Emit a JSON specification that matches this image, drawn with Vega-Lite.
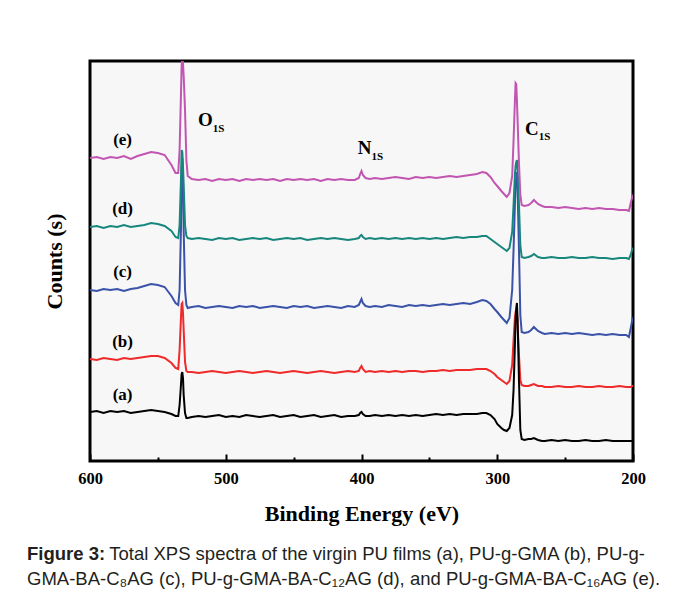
{
  "$schema": "https://vega.github.io/schema/vega-lite/v6.json",
  "width": 543,
  "height": 400,
  "autosize": {"type": "none"},
  "padding": {"left": 90, "top": 61, "right": 42, "bottom": 134},
  "background": "white",
  "config": {"view": {"stroke": "#000000", "strokeWidth": 3, "fill": "#f7f7f7"}},
  "title": {
    "text": "Figure 3:",
    "subtitle": ["\u200b\u00a0\u00a0\u00a0\u00a0\u00a0\u00a0\u00a0\u00a0\u00a0\u00a0\u00a0\u00a0\u00a0\u00a0\u00a0\u00a0Total XPS spectra of the virgin PU films (a), PU-g-GMA (b), PU-g-", "GMA-BA-C₈AG (c), PU-g-GMA-BA-C₁₂AG (d), and PU-g-GMA-BA-C₁₆AG (e)."],
    "orient": "bottom",
    "anchor": "start",
    "frame": "group",
    "dx": -63,
    "offset": 20,
    "font": "Liberation Sans",
    "fontSize": 18.5,
    "fontWeight": "bold",
    "color": "#231f20",
    "subtitleFont": "Liberation Sans",
    "subtitleFontSize": 18.5,
    "subtitleFontWeight": "normal",
    "subtitleColor": "#231f20",
    "subtitlePadding": -18.5,
    "subtitleLineHeight": 25
  },
  "datasets": {
    "spectra": [
      {"E":600,"a":49,"b":102,"c":171,"d":234,"e":303},
      {"E":595,"a":50,"b":101,"c":170,"d":235,"e":304},
      {"E":590,"a":48,"b":103,"c":172,"d":233,"e":302},
      {"E":585,"a":50,"b":102,"c":171,"d":235,"e":304},
      {"E":580,"a":49,"b":101,"c":172,"d":234,"e":303},
      {"E":575,"a":50,"b":103,"c":170,"d":236,"e":305},
      {"E":570,"a":48,"b":102,"c":172,"d":234,"e":302},
      {"E":565,"a":49,"b":103,"c":173,"d":235,"e":305},
      {"E":560,"a":50,"b":104,"c":175,"d":236,"e":307},
      {"E":555,"a":51,"b":105,"c":177,"d":238,"e":309},
      {"E":550,"a":50,"b":105,"c":176,"d":237,"e":308},
      {"E":545,"a":49,"b":103,"c":174,"d":235,"e":306},
      {"E":540,"a":47,"b":98,"c":165,"d":230,"e":296},
      {"E":537,"a":45,"b":93,"c":158,"d":224,"e":288},
      {"E":535,"a":45,"b":92,"c":156,"d":223,"e":288},
      {"E":534,"a":56,"b":111,"c":171,"d":236,"e":311},
      {"E":533,"a":76,"b":143,"c":231,"d":281,"e":366},
      {"E":532.5,"a":87,"b":157,"c":286,"d":311,"e":395},
      {"E":532,"a":89,"b":158,"c":303,"d":309,"e":404},
      {"E":531.5,"a":83,"b":148,"c":286,"d":295,"e":398},
      {"E":531,"a":66,"b":131,"c":231,"d":276,"e":385},
      {"E":530,"a":48,"b":99,"c":171,"d":236,"e":351},
      {"E":529,"a":43,"b":90,"c":156,"d":225,"e":301},
      {"E":528,"a":43,"b":89,"c":153,"d":223,"e":285},
      {"E":525,"a":44,"b":89,"c":154,"d":222,"e":282},
      {"E":520,"a":45,"b":88,"c":155,"d":223,"e":281},
      {"E":515,"a":44,"b":89,"c":153,"d":222,"e":282},
      {"E":510,"a":45,"b":90,"c":154,"d":221,"e":280},
      {"E":505,"a":46,"b":89,"c":155,"d":223,"e":282},
      {"E":500,"a":44,"b":88,"c":154,"d":222,"e":281},
      {"E":495,"a":45,"b":89,"c":153,"d":223,"e":282},
      {"E":490,"a":44,"b":90,"c":155,"d":221,"e":280},
      {"E":485,"a":46,"b":89,"c":154,"d":222,"e":282},
      {"E":480,"a":45,"b":88,"c":155,"d":223,"e":281},
      {"E":475,"a":44,"b":89,"c":153,"d":222,"e":282},
      {"E":470,"a":45,"b":90,"c":154,"d":223,"e":281},
      {"E":465,"a":46,"b":89,"c":155,"d":221,"e":282},
      {"E":460,"a":44,"b":88,"c":154,"d":222,"e":280},
      {"E":455,"a":45,"b":89,"c":153,"d":223,"e":282},
      {"E":450,"a":46,"b":90,"c":155,"d":222,"e":281},
      {"E":445,"a":44,"b":89,"c":154,"d":223,"e":282},
      {"E":440,"a":45,"b":88,"c":155,"d":221,"e":281},
      {"E":435,"a":46,"b":89,"c":153,"d":222,"e":282},
      {"E":430,"a":44,"b":90,"c":154,"d":223,"e":280},
      {"E":425,"a":45,"b":89,"c":155,"d":222,"e":282},
      {"E":420,"a":46,"b":88,"c":154,"d":223,"e":281},
      {"E":415,"a":44,"b":89,"c":153,"d":222,"e":282},
      {"E":410,"a":45,"b":90,"c":155,"d":221,"e":281},
      {"E":405,"a":45,"b":89,"c":154,"d":222,"e":281},
      {"E":402,"a":46,"b":90,"c":156,"d":223,"e":283},
      {"E":401,"a":48,"b":93,"c":159,"d":225,"e":287},
      {"E":400,"a":49,"b":95,"c":162,"d":226,"e":290},
      {"E":399,"a":47,"b":92,"c":158,"d":224,"e":286},
      {"E":397,"a":45,"b":89,"c":155,"d":222,"e":283},
      {"E":394,"a":45,"b":90,"c":154,"d":223,"e":282},
      {"E":390,"a":46,"b":89,"c":155,"d":222,"e":283},
      {"E":385,"a":45,"b":90,"c":154,"d":223,"e":282},
      {"E":380,"a":46,"b":89,"c":156,"d":222,"e":283},
      {"E":375,"a":45,"b":90,"c":155,"d":223,"e":284},
      {"E":370,"a":46,"b":89,"c":154,"d":222,"e":283},
      {"E":365,"a":45,"b":90,"c":156,"d":223,"e":282},
      {"E":360,"a":46,"b":90,"c":155,"d":222,"e":284},
      {"E":355,"a":45,"b":89,"c":156,"d":223,"e":283},
      {"E":350,"a":46,"b":90,"c":155,"d":222,"e":284},
      {"E":345,"a":47,"b":90,"c":156,"d":223,"e":283},
      {"E":340,"a":46,"b":91,"c":157,"d":222,"e":284},
      {"E":335,"a":47,"b":90,"c":156,"d":223,"e":285},
      {"E":330,"a":46,"b":91,"c":157,"d":224,"e":284},
      {"E":325,"a":47,"b":91,"c":158,"d":223,"e":285},
      {"E":320,"a":47,"b":91,"c":157,"d":224,"e":286},
      {"E":315,"a":47,"b":92,"c":159,"d":224,"e":287},
      {"E":311,"a":48,"b":92,"c":161,"d":225,"e":289},
      {"E":308,"a":48,"b":92,"c":160,"d":225,"e":288},
      {"E":305,"a":46,"b":90,"c":157,"d":222,"e":284},
      {"E":302,"a":42,"b":87,"c":152,"d":219,"e":278},
      {"E":300,"a":37,"b":84,"c":149,"d":217,"e":275},
      {"E":297,"a":33,"b":81,"c":144,"d":214,"e":270},
      {"E":295,"a":31,"b":79,"c":141,"d":212,"e":267},
      {"E":293,"a":30,"b":77,"c":138,"d":210,"e":264},
      {"E":291,"a":33,"b":80,"c":143,"d":213,"e":268},
      {"E":289,"a":46,"b":96,"c":171,"d":229,"e":285},
      {"E":288,"a":71,"b":121,"c":211,"d":256,"e":320},
      {"E":287,"a":116,"b":143,"c":256,"d":286,"e":360},
      {"E":286.5,"a":140,"b":149,"c":275,"d":295,"e":378},
      {"E":286,"a":153,"b":151,"c":283,"d":299,"e":377},
      {"E":285.5,"a":158,"b":149,"c":289,"d":301,"e":360},
      {"E":285,"a":141,"b":136,"c":271,"d":291,"e":340},
      {"E":284,"a":81,"b":106,"c":211,"d":256,"e":298},
      {"E":283,"a":31,"b":81,"c":146,"d":216,"e":266},
      {"E":282,"a":22,"b":76,"c":129,"d":204,"e":256},
      {"E":280,"a":21,"b":75,"c":128,"d":203,"e":255},
      {"E":277,"a":22,"b":75,"c":129,"d":204,"e":256},
      {"E":275,"a":22,"b":76,"c":131,"d":205,"e":258},
      {"E":273,"a":23,"b":77,"c":134,"d":207,"e":261},
      {"E":270,"a":21,"b":75,"c":130,"d":204,"e":257},
      {"E":267,"a":20,"b":75,"c":128,"d":203,"e":255},
      {"E":265,"a":20,"b":74,"c":127,"d":203,"e":254},
      {"E":260,"a":21,"b":74,"c":128,"d":204,"e":254},
      {"E":255,"a":20,"b":75,"c":127,"d":203,"e":253},
      {"E":250,"a":21,"b":74,"c":128,"d":203,"e":254},
      {"E":245,"a":20,"b":74,"c":127,"d":204,"e":253},
      {"E":240,"a":20,"b":75,"c":128,"d":203,"e":252},
      {"E":235,"a":21,"b":74,"c":127,"d":203,"e":253},
      {"E":230,"a":20,"b":74,"c":126,"d":204,"e":252},
      {"E":225,"a":20,"b":75,"c":127,"d":203,"e":253},
      {"E":220,"a":21,"b":74,"c":126,"d":203,"e":252},
      {"E":215,"a":20,"b":74,"c":127,"d":202,"e":252},
      {"E":210,"a":20,"b":75,"c":126,"d":203,"e":251},
      {"E":205,"a":20,"b":74,"c":126,"d":203,"e":251},
      {"E":203,"a":20,"b":74,"c":124,"d":202,"e":250},
      {"E":201.5,"a":20,"b":74,"c":134,"d":207,"e":259},
      {"E":200.5,"a":20,"b":75,"c":141,"d":212,"e":264},
      {"E":200,"a":20,"b":75,"c":139,"d":211,"e":262}
    ],
    "labels": [
      {"E":576,"v":321,"t":"(e)"},
      {"E":576,"v":252,"t":"(d)"},
      {"E":576,"v":189,"t":"(c)"},
      {"E":576,"v":119,"t":"(b)"},
      {"E":576,"v":66,"t":"(a)"}
    ],
    "peaks": [
      {"E":509.6,"v":335,"vs":329,"m":"O","sub":"1S"},
      {"E":392.6,"v":307,"vs":301,"m":"N","sub":"1S"},
      {"E":269.5,"v":326,"vs":321,"m":"C","sub":"1S"}
    ]
  },
  "layer": [
    {
      "data": {"name": "spectra"},
      "transform": [{"fold": ["b", "a", "c", "d", "e"], "as": ["s", "v"]}],
      "mark": {"type": "line", "strokeWidth": 2, "clip": true},
      "encoding": {
        "x": {
          "field": "E", "type": "quantitative",
          "scale": {"domain": [200, 600], "reverse": true, "nice": false, "zero": false},
          "axis": {
            "values": [600, 550, 500, 450, 400, 350, 300, 250, 200],
            "labelExpr": "datum.value % 100 === 0 ? datum.label : ''",
            "tickSize": {"condition": {"test": "datum.value % 100 === 0", "value": -7}, "value": -4},
            "tickWidth": 2, "tickColor": "#000000",
            "domain": false, "grid": false,
            "labelFont": "Liberation Serif", "labelFontWeight": "bold", "labelFontSize": 16.5, "labelColor": "#000000",
            "labelPadding": 16, "labelFlush": false, "labelOverlap": false, "labelBound": false,
            "title": "Binding Energy (eV)",
            "titleFont": "Liberation Serif", "titleFontSize": 22, "titleFontWeight": "bold", "titleColor": "#000000",
            "titlePadding": 14
          }
        },
        "y": {
          "field": "v", "type": "quantitative",
          "scale": {"domain": [0, 400], "nice": false, "zero": false},
          "axis": {
            "title": "Counts (s)", "labels": false, "ticks": false, "domain": false, "grid": false,
            "titleFont": "Liberation Serif", "titleFontSize": 22, "titleFontWeight": "bold", "titleColor": "#000000",
            "titlePadding": 24
          }
        },
        "color": {
          "field": "s", "type": "nominal",
          "scale": {"domain": ["a", "b", "c", "d", "e"], "range": ["#000000", "#ee2a2a", "#3a52a8", "#17877d", "#c255b2"]},
          "legend": null
        }
      }
    },
    {
      "data": {"name": "labels"},
      "mark": {"type": "text", "font": "Liberation Serif", "fontWeight": "bold", "fontSize": 17, "baseline": "middle", "align": "center", "color": "#000000"},
      "encoding": {
        "x": {"field": "E", "type": "quantitative"},
        "y": {"field": "v", "type": "quantitative"},
        "text": {"field": "t"}
      }
    },
    {
      "data": {"name": "peaks"},
      "mark": {"type": "text", "font": "Liberation Serif", "fontWeight": "bold", "fontSize": 19, "baseline": "alphabetic", "align": "right", "color": "#000000"},
      "encoding": {
        "x": {"field": "E", "type": "quantitative"},
        "y": {"field": "v", "type": "quantitative"},
        "text": {"field": "m"}
      }
    },
    {
      "data": {"name": "peaks"},
      "mark": {"type": "text", "font": "Liberation Serif", "fontWeight": "bold", "fontSize": 11, "baseline": "alphabetic", "align": "left", "color": "#000000"},
      "encoding": {
        "x": {"field": "E", "type": "quantitative"},
        "y": {"field": "vs", "type": "quantitative"},
        "text": {"field": "sub"}
      }
    }
  ]
}
